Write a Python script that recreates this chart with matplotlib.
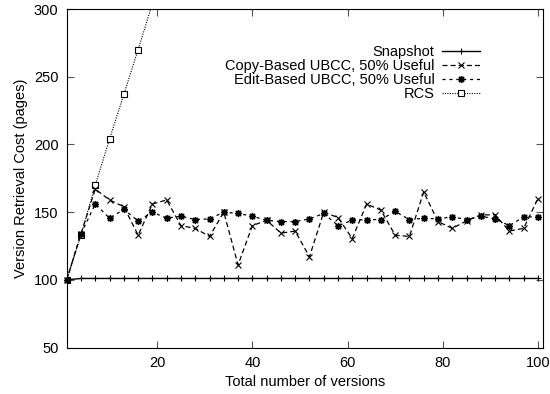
import matplotlib
matplotlib.use("Agg")
import matplotlib.pyplot as plt

plt.rcParams['font.family'] = ['Liberation Sans', 'DejaVu Sans']
plt.rcParams['font.size'] = 10.5

# data
versions = [1, 4, 7, 10, 13, 16, 19, 22, 25, 28, 31, 34, 37, 40, 43, 46, 49,
            52, 55, 58, 61, 64, 67, 70, 73, 76, 79, 82, 85, 88, 91, 94, 97, 100]
snapshot = [100, 101, 101, 101, 101, 101, 101, 101, 101, 101, 101, 101, 101,
            101, 101, 101, 101, 101, 101, 101, 101, 101, 101, 101, 101, 101,
            101, 101, 101, 101, 101, 101, 101, 101]
copy_based = [100, 134, 167, 159, 154, 133, 156, 159, 140, 138, 132, 150, 111,
              140, 144, 134.5, 136, 117, 150, 146, 130.5, 156, 151.5, 133, 132,
              165, 143, 138, 143.5, 148, 148, 136, 138, 160]
edit_based = [100, 134, 156, 145.5, 152, 143.5, 150, 145.5, 147, 144.5, 145,
              150, 149, 147, 144, 143, 143, 145, 149, 140, 144, 144.5, 144.5,
              150.5, 144.5, 145.5, 145, 146.5, 144.5, 147, 145, 140, 146.5, 146.5]
rcs_versions = [1, 4, 7, 10, 13, 16, 19]
rcs = [100, 133, 170, 204, 237, 270, 304]

fig = plt.figure(figsize=(5.5, 3.94), dpi=100)
ax = fig.add_axes([0.1213, 0.118, 0.8654, 0.859])

ax.plot(versions, snapshot, color='black', lw=1.0, marker='+', ms=5,
        mew=0.8, clip_on=False, zorder=3, label='Snapshot')
ax.plot(versions, copy_based, color='black', lw=0.9, ls=(0, (4, 2.5)),
        marker='x', ms=4.5, mew=0.8, clip_on=False, zorder=3,
        label='Copy-Based UBCC, 50% Useful')
ax.plot(versions, edit_based, color='black', lw=0.9, ls=(0, (2.5, 3)),
        marker=(8, 2, 0), ms=5, mew=1.0, clip_on=False, zorder=3,
        label='Edit-Based UBCC, 50% Useful')
ax.plot(rcs_versions, rcs, color='black', lw=0.8, ls=(0, (1, 1.2)),
        marker='s', ms=4, mfc='white', mec='black', mew=0.8, label='RCS')

ax.set_xlim(1, 101)
ax.set_ylim(50, 300)
ax.set_xticks([20, 40, 60, 80, 100])
ax.set_yticks([50, 100, 150, 200, 250, 300])
ax.tick_params(direction='in', length=5, width=0.8, top=True, right=True,
               color='#555555', pad=6)
ax.set_xlabel('Total number of versions')
ax.set_ylabel('Version Retrieval Cost (pages)')

leg = ax.legend(loc='upper right', bbox_to_anchor=(0.88, 0.912), frameon=False,
                markerfirst=False, handlelength=2.6, handletextpad=0.5,
                labelspacing=0.0, borderaxespad=0)
# right-justify labels next to the samples, gnuplot style
for col in leg._legend_handle_box.get_children():
    col.align = 'right'

fig.savefig('out.png', dpi=100)
